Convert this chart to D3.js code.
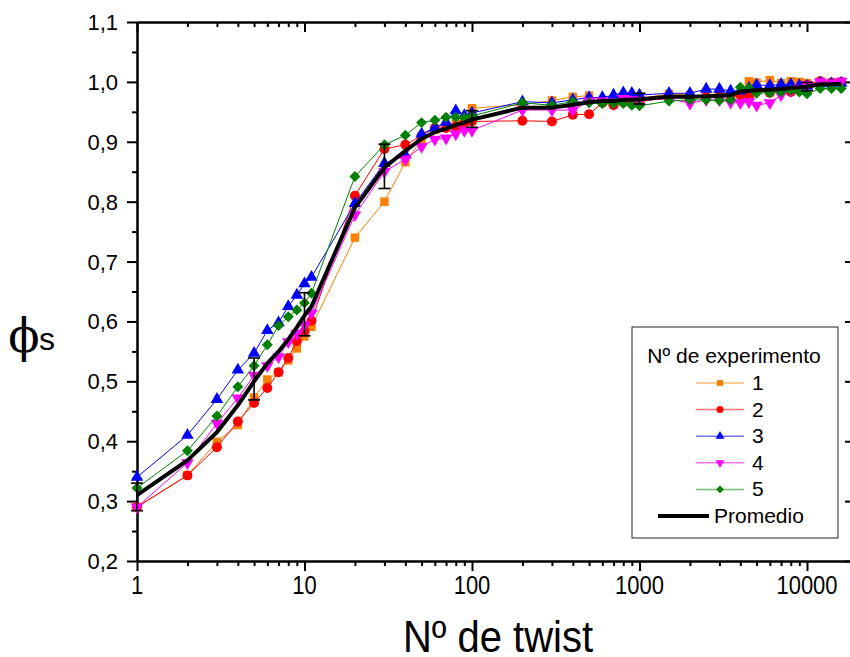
<!DOCTYPE html>
<html>
<head>
<meta charset="utf-8">
<title>phi s vs twist</title>
<script src="https://cdn.jsdelivr.net/npm/d3@7"></script>
<style>
  body { margin: 0; background: #fff; }
  text { font-family: "Liberation Sans", Arial, sans-serif; fill: #000; }
</style>
</head>
<body>
<script>
// twist counts shared by every experiment
var twists = [1, 2, 3, 4, 5, 6, 7, 8, 9, 10, 11, 20, 30, 40, 50, 60, 70, 80, 90, 100,
  200, 300, 400, 500, 600, 700, 800, 900, 1000, 1500, 2000, 2500, 3000, 3500, 4000,
  4500, 5000, 6000, 7000, 8000, 9000, 10000, 12000, 14000, 16000];

var exp1 = [0.290, 0.343, 0.399, 0.427, 0.473, 0.503, 0.515, 0.535, 0.555, 0.575, 0.591, 0.740, 0.800, 0.866, 0.903, 0.920, 0.925, 0.930, 0.935, 0.956,
  0.962, 0.969, 0.975, 0.977, 0.968, 0.967, 0.968, 0.970, 0.972, 0.980, 0.978, 0.976, 0.976, 0.978, 0.980,
  1.001, 0.999, 1.003, 0.998, 1.001, 1.000, 0.998, 1.000, 0.998, 1.000];
var exp2 = [0.290, 0.343, 0.390, 0.433, 0.464, 0.489, 0.515, 0.539, 0.567, 0.583, 0.601, 0.810, 0.888, 0.895, 0.910, 0.923, 0.923, 0.925, 0.931, 0.934,
  0.935, 0.934, 0.945, 0.946, 0.965, 0.961, 0.966, 0.966, 0.967, 0.974, 0.975, 0.974, 0.975, 0.977, 0.978,
  0.976, 0.985, 0.982, 0.985, 0.983, 0.986, 0.995, 1.001, 0.999, 1.000];
var exp3 = [0.340, 0.410, 0.470, 0.519, 0.547, 0.585, 0.598, 0.625, 0.644, 0.663, 0.674, 0.797, 0.864, 0.878, 0.913, 0.923, 0.933, 0.952, 0.944, 0.948,
  0.967, 0.965, 0.970, 0.974, 0.974, 0.978, 0.982, 0.981, 0.978, 0.981, 0.981, 0.988, 0.988, 0.985, 0.985,
  0.990, 0.995, 0.994, 0.996, 0.996, 0.994, 0.993, 0.998, 0.997, 0.998];
var exp4 = [0.290, 0.364, 0.430, 0.472, 0.510, 0.526, 0.541, 0.566, 0.580, 0.594, 0.614, 0.778, 0.850, 0.871, 0.892, 0.904, 0.906, 0.913, 0.919, 0.919,
  0.953, 0.953, 0.953, 0.968, 0.968, 0.966, 0.972, 0.970, 0.969, 0.972, 0.964, 0.970, 0.970, 0.966, 0.965,
  0.967, 0.961, 0.965, 0.978, 0.985, 0.989, 0.995, 1.000, 0.998, 1.001];
var exp5 = [0.322, 0.384, 0.442, 0.491, 0.526, 0.561, 0.593, 0.608, 0.619, 0.631, 0.647, 0.842, 0.895, 0.911, 0.932, 0.936, 0.941, 0.941, 0.940, 0.943,
  0.965, 0.961, 0.967, 0.965, 0.964, 0.964, 0.964, 0.961, 0.960, 0.968, 0.970, 0.970, 0.969, 0.970, 0.991,
  0.990, 0.981, 0.982, 0.983, 0.986, 0.983, 0.980, 0.989, 0.989, 0.989];
var promedio = [0.310, 0.368, 0.415, 0.460, 0.500, 0.530, 0.550, 0.570, 0.590, 0.610, 0.625, 0.790, 0.857, 0.885, 0.905, 0.916, 0.922, 0.928, 0.932, 0.937,
  0.957, 0.957, 0.962, 0.966, 0.968, 0.968, 0.970, 0.970, 0.971, 0.975, 0.975, 0.976, 0.977, 0.978, 0.984,
  0.985, 0.986, 0.987, 0.988, 0.990, 0.991, 0.992, 0.996, 0.996, 0.997];

// error bars on the average
var errTwists = [1, 5, 10, 30, 100, 1000, 10000];
var errMean = [0.307, 0.504, 0.612, 0.859, 0.938, 0.972, 0.992];
var errSd = [0.023, 0.035, 0.036, 0.037, 0.014, 0.009, 0.007];

var seriesNames = ["1", "2", "3", "4", "5"];
var seriesColors = ["#ff8000", "#ff0000", "#0000ff", "#ff00ff", "#008000"];
var xTicks = [1, 10, 100, 1000, 10000];
var yTicks = [0.2, 0.3, 0.4, 0.5, 0.6, 0.7, 0.8, 0.9, 1.0, 1.1];

var W = 850, H = 657;
var plotL = 137, plotR = 853, plotT = 22, plotB = 561;

var svg = d3.select("body").append("svg")
    .attr("width", W)
    .attr("height", H);

// 1 -> 137px, 10000 -> 807px; extend domain to the right frame
var x = d3.scaleLog().domain([1, 10000]).range([plotL, 807]);
x.domain([1, x.invert(plotR)]).range([plotL, plotR]);
var y = d3.scaleLinear().domain([0.2, 1.1]).range([plotB, plotT]);

var comma = d3.formatLocale({decimal: ",", thousands: ".", grouping: [3], currency: ["", ""]});
var fmtY = comma.format(".1f");

// minor tick positions
var xMinor = [];
[1, 10, 100, 1000, 10000].forEach(function(d) {
  for (var k = 2; k <= 9; k++) if (d * k < x.domain()[1]) xMinor.push(d * k);
});
var yMinor = yTicks.slice(0, -1).map(function(d) { return d + 0.05; });

function styleAxis(g) {
  g.select(".domain").attr("stroke", "#000").attr("stroke-width", 2);
  g.selectAll(".tick line").attr("stroke", "#000").attr("stroke-width", 2);
  g.selectAll("text").remove();
}

// bottom
svg.append("g").attr("transform", "translate(0," + plotB + ")")
  .call(d3.axisBottom(x).tickValues(xTicks).tickSize(10).tickSizeOuter(0)).call(styleAxis);
svg.append("g").attr("transform", "translate(0," + plotB + ")")
  .call(d3.axisBottom(x).tickValues(xMinor).tickSize(5).tickSizeOuter(0)).call(styleAxis);
// top (ticks point inward)
svg.append("g").attr("transform", "translate(0," + plotT + ")")
  .call(d3.axisBottom(x).tickValues(xTicks).tickSize(10).tickSizeOuter(0)).call(styleAxis);
svg.append("g").attr("transform", "translate(0," + plotT + ")")
  .call(d3.axisBottom(x).tickValues(xMinor).tickSize(5).tickSizeOuter(0)).call(styleAxis);
// left
svg.append("g").attr("transform", "translate(" + plotL + ",0)")
  .call(d3.axisLeft(y).tickValues(yTicks).tickSize(10).tickSizeOuter(0)).call(styleAxis);
svg.append("g").attr("transform", "translate(" + plotL + ",0)")
  .call(d3.axisLeft(y).tickValues(yMinor).tickSize(5).tickSizeOuter(0)).call(styleAxis);
// right
svg.append("g").attr("transform", "translate(" + plotR + ",0)")
  .call(d3.axisLeft(y).tickValues(yTicks).tickSize(8).tickSizeOuter(0)).call(styleAxis);

// tick labels
svg.append("g").selectAll("text").data(xTicks).enter().append("text")
    .attr("transform", function(d) { return "translate(" + x(d) + "," + (plotB + 33) + ") scale(1,1.15)"; })
    .attr("text-anchor", "middle")
    .attr("font-size", 22)
    .text(function(d) { return d; });
svg.append("g").selectAll("text").data(yTicks).enter().append("text")
    .attr("x", plotL - 19)
    .attr("y", function(d) { return y(d) + 8; })
    .attr("text-anchor", "end")
    .attr("font-size", 22)
    .text(function(d) { return fmtY(d); });

// axis titles
svg.append("text")
    .attr("transform", "translate(498,652) scale(1,1.12)")
    .attr("text-anchor", "middle")
    .attr("font-size", 40)
    .text("Nº de twist");
svg.append("text")
    .attr("x", 24).attr("y", 352)
    .attr("text-anchor", "middle")
    .style("font-family", "'DejaVu Serif', serif")
    .attr("font-size", 46)
    .text("\u03d5");
svg.append("text")
    .attr("x", 39).attr("y", 350)
    .attr("font-size", 32)
    .text("s");

// data
var plot = svg.append("g");
var symbols = [
  {type: d3.symbolSquare, size: 72, rot: 0},
  {type: d3.symbolCircle, size: 78, rot: 0},
  {type: d3.symbolTriangle, size: 68, rot: 0},
  {type: d3.symbolTriangle, size: 68, rot: 180},
  {type: d3.symbolSquare, size: 60, rot: 45}
];
var allSeries = [exp1, exp2, exp3, exp4, exp5];

var line = d3.line()
    .x(function(d, i) { return x(twists[i]); })
    .y(function(d) { return y(d); });

allSeries.forEach(function(vals, s) {
  var g = plot.append("g");
  g.append("path")
      .datum(vals)
      .attr("fill", "none")
      .attr("stroke", seriesColors[s])
      .attr("stroke-width", 1)
      .attr("d", line);
  g.selectAll("path.pt").data(vals).enter().append("path")
      .attr("class", "pt")
      .attr("d", d3.symbol().type(symbols[s].type).size(symbols[s].size))
      .attr("fill", seriesColors[s])
      .attr("transform", function(d, i) {
        return "translate(" + x(twists[i]) + "," + y(d) + ") rotate(" + symbols[s].rot + ")";
      });
});

plot.append("path")
    .datum(promedio)
    .attr("fill", "none")
    .attr("stroke", "#000")
    .attr("stroke-width", 4)
    .attr("stroke-linejoin", "round")
    .attr("d", line);

var eb = plot.append("g").attr("stroke", "#000").attr("stroke-width", 1.6);
errTwists.forEach(function(t, i) {
  var cx = x(t), y0 = y(errMean[i] - errSd[i]), y1 = y(errMean[i] + errSd[i]);
  eb.append("line").attr("x1", cx).attr("x2", cx).attr("y1", y0).attr("y2", y1);
  eb.append("line").attr("x1", cx - 6).attr("x2", cx + 6).attr("y1", y0).attr("y2", y0);
  eb.append("line").attr("x1", cx - 6).attr("x2", cx + 6).attr("y1", y1).attr("y2", y1);
});

// legend
var lg = svg.append("g");
lg.append("rect")
    .attr("x", 632).attr("y", 327)
    .attr("width", 206).attr("height", 211)
    .attr("fill", "#fff")
    .attr("stroke", "#222")
    .attr("stroke-width", 1);
lg.append("text")
    .attr("x", 734).attr("y", 363)
    .attr("text-anchor", "middle")
    .attr("font-size", 21)
    .text("Nº de experimento");
seriesNames.forEach(function(name, s) {
  var cy = 383 + s * 26.6;
  lg.append("line")
      .attr("x1", 696).attr("x2", 744)
      .attr("y1", cy).attr("y2", cy)
      .attr("stroke", seriesColors[s])
      .attr("stroke-opacity", 0.55)
      .attr("stroke-width", 1.5);
  lg.append("path")
      .attr("d", d3.symbol().type(symbols[s].type).size(symbols[s].size * 0.5))
      .attr("fill", seriesColors[s])
      .attr("transform", "translate(720," + cy + ") rotate(" + symbols[s].rot + ")");
  lg.append("text")
      .attr("x", 752).attr("y", cy + 7)
      .attr("font-size", 21)
      .text(name);
});
lg.append("line")
    .attr("x1", 658).attr("x2", 709)
    .attr("y1", 516).attr("y2", 516)
    .attr("stroke", "#000")
    .attr("stroke-width", 4);
lg.append("text")
    .attr("x", 714).attr("y", 523)
    .attr("font-size", 21)
    .text("Promedio");
</script>
</body>
</html>
